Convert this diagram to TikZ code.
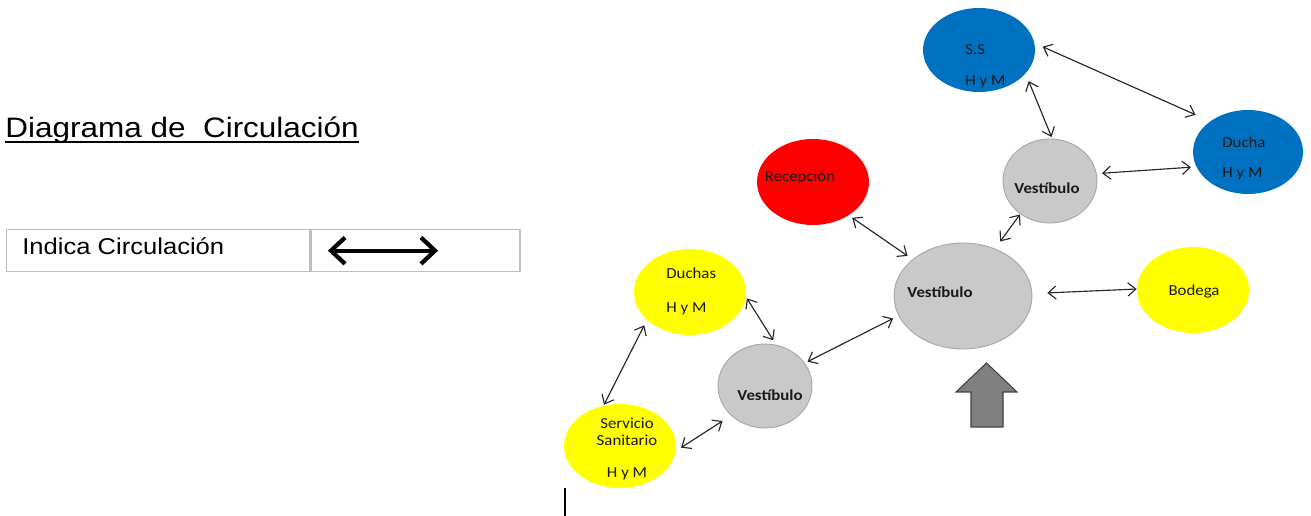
\documentclass[tikz,border=0pt]{standalone}
\usepackage{fontspec}
\setmainfont{Liberation Sans}
\newfontfamily\arialw[FakeStretch=1.12]{Liberation Sans}
\newfontfamily\calw[FakeStretch=1.1]{Carlito}
\usetikzlibrary{shapes.geometric, arrows.meta, positioning}
\definecolor{roomblue}{RGB}{0,112,192}
\definecolor{roomred}{RGB}{255,0,0}
\definecolor{roomyellow}{RGB}{255,255,0}
\definecolor{hallgray}{RGB}{201,201,201}
\definecolor{hallline}{RGB}{165,165,165}
\definecolor{cellline}{RGB}{190,190,190}
\definecolor{entrygray}{RGB}{128,128,128}

\begin{document}
\begin{tikzpicture}[
    x=0.02cm, y=-0.02cm,
    room/.style={ellipse, inner sep=0pt, minimum width=2.24cm, minimum height=1.7cm},
    hall/.style={room, fill=hallgray, draw=hallline, line width=0.5pt,
                 minimum width=1.88cm, minimum height=1.68cm},
    txt/.style={font=\calw\fontsize{8.7}{10}\selectfont, inner sep=0pt, text=black!90},
    boldtxt/.style={txt, font=\calw\bfseries\fontsize{8.7}{10}\selectfont},
    cell/.style={rectangle, draw=cellline, line width=0.8pt, inner sep=0pt,
                 minimum height=0.84cm, anchor=north west},
    link/.style={{Straight Barb[length=4.5pt,width=7.5pt]}-{Straight Barb[length=4.5pt,width=7.5pt]},
                 line width=0.65pt, draw=black!85}
]
\useasboundingbox (0,0) rectangle (1311,516);

\node[font=\arialw\fontsize{16}{19}\selectfont, anchor=base west, inner sep=0pt] (title) at (5,138) {Diagrama de\ \ Circulación};
\draw[line width=1.1pt] ([yshift=-2.3pt]title.base west) -- ([yshift=-2.3pt]title.base east);

\node[cell, minimum width=6.06cm] (cellA) at (6,229) {};
\node[cell, minimum width=4.18cm] (cellB) at (cellA.north east) {};
\node[font=\arialw\fontsize{13}{15}\selectfont, anchor=base west, inner sep=0pt] (legT) at (22,255) {Indica Circulación};
\draw[{Straight Barb[length=8pt,width=15pt]}-{Straight Barb[length=8pt,width=15pt]}, line width=2.4pt]
    ([xshift=10pt]cellB.west) -- ([xshift=-47pt]cellB.east);

\node[room, fill=roomblue, minimum height=1.68cm] (ss) at (979,50) {};
\node[room, fill=roomblue, minimum width=2.2cm, minimum height=1.68cm] (ducha) at (1248,152) {};
\node[hall] (vu) at (1050,181) {};
\node[room, fill=roomred, minimum height=1.72cm] (rec) at (813,182) {};
\node[hall, minimum width=2.76cm, minimum height=2.12cm] (main) at (963,296) {};
\node[room, fill=roomyellow, minimum height=1.72cm] (bodega) at (1193,290) {};
\node[room, fill=roomyellow, minimum height=1.72cm] (duchas) at (690,292) {};
\node[hall] (vl) at (765,386) {};
\node[room, fill=roomyellow, minimum height=1.68cm] (serv) at (620,446) {};

\node[txt, anchor=west, align=left] (ssT) at (965,66) {S.S\\[7.6pt]H y M};
\node[txt, anchor=west, align=left] (duchaT) at (1222,158) {Ducha\\[7pt]H y M};
\node[boldtxt] (vuT) at (1047,188) {Vestíbulo};
\node[txt] (recT) at (800,177) {Recepción};
\node[boldtxt] (mainT) at (940,292) {Vestíbulo};
\node[txt] (bodegaT) at (1194,292) {Bodega};
\node[txt, anchor=west, align=left] (duchasT) at (666,291) {Duchas\\[9.4pt]H y M};
\node[boldtxt] (vlT) at (770,395) {Vestíbulo};
\node[txt, align=center] (servT) at (627,449) {Servicio\\Sanitario\\[8.2pt]H y M};

\draw[link, shorten <=5pt, shorten >=9pt] (ss.7) -- (ducha.141);
\draw[link, shorten <=4.5pt, shorten >=1pt] (ss.-27) -- (vu.87);
\draw[link, shorten <=3pt, shorten >=3pt] (vu.9) -- (ducha.196);
\draw[link, shorten <=2.3pt, shorten >=3.4pt] (rec.-43) -- (main.144);
\draw[link, shorten <=0.3pt, shorten >=5pt] (vu.-132) -- (main.56);
\draw[link, shorten <=8.5pt] (main.2) -- (bodega.179);
\draw[link, shorten <=3.4pt, shorten >=1.7pt] (main.197) -- (vl.30);
\draw[link, shorten <=1pt, shorten >=3pt] (duchas.-5) -- (vl.75);
\draw[link, shorten <=3.4pt, shorten >=0.5pt] (duchas.213) -- (serv.112);
\draw[link, shorten <=3.4pt, shorten >=5.7pt] (serv.-5) -- (vl.221);

\draw[fill=entrygray, draw=black!75, line width=0.6pt]
    (986.5,363) -- (1017,392) -- (1003,392) -- (1003,427) -- (971,427) -- (971,392) -- (956,392) -- cycle;

\draw[line width=0.6pt] (565,488) -- (565,516);
\end{tikzpicture}
\end{document}
